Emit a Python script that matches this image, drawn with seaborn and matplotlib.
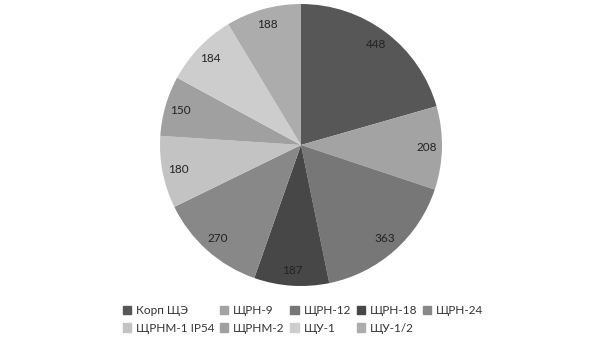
import matplotlib
matplotlib.use("Agg")
import matplotlib.pyplot as plt
import matplotlib.patches as mpatches
import seaborn as sns

categories = ["Корп ЩЭ", "ЩРН-9", "ЩРН-12", "ЩРН-18", "ЩРН-24",
              "ЩРНМ-1 IP54", "ЩРНМ-2", "ЩУ-1", "ЩУ-1/2"]
values = [448, 208, 363, 187, 270, 180, 150, 184, 188]
colors = ["#575757", "#a3a3a3", "#777777", "#474747", "#888888",
          "#c3c3c3", "#a0a0a0", "#cdcdcd", "#acacac"]

sns.set_style("white")
plt.rcParams['font.family'] = ['Lato', 'DejaVu Sans']

fig = plt.figure(figsize=(6.06, 3.41), dpi=100)
ax = fig.add_axes([0, 0, 1, 1])
ax.set_xlim(0, 606)
ax.set_ylim(341, 0)
ax.axis("off")

pax = fig.add_axes([(301 - 141) / 606, 1 - (145 + 141) / 341, 282 / 606, 282 / 341])
wedges, texts = pax.pie(values, colors=colors, startangle=90, counterclock=False,
                        labels=[str(v) for v in values], labeldistance=0.89,
                        wedgeprops=dict(linewidth=0))
for t in texts:
    t.set_ha("center")
    t.set_va("center")
    t.set_fontsize(8.5)
    t.set_color("#222222")
pax.set_xlim(-1, 1)
pax.set_ylim(-1, 1)
pax.set_aspect("equal")

handles = [mpatches.Patch(color=c, label=l) for c, l in zip(colors, categories)]
order = [0, 5, 1, 6, 2, 7, 3, 8, 4]
fig.legend([handles[i] for i in order], [categories[i] for i in order],
           ncol=5, loc="center", bbox_to_anchor=(0.5, 1 - 319.5 / 341),
           frameon=False, fontsize=8.5, handlelength=0.7, handleheight=0.7,
           handletextpad=0.4, columnspacing=0.5, labelspacing=0.55,
           labelcolor="#333333")

fig.savefig("out.png", dpi=100)
